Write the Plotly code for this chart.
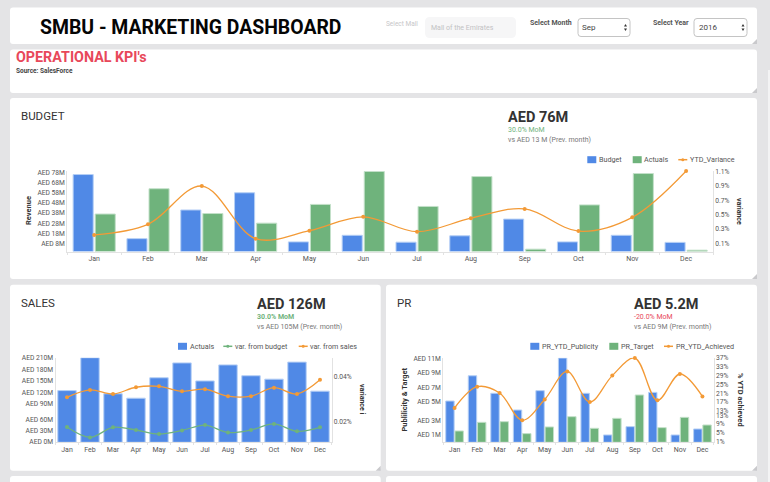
import plotly.graph_objects as go

W = 770
H = 482
FONT = "Roboto"
BLUE = "#5089e6"
GREEN = "#6fb37c"
ORANGE = "#f39a36"

months = ["Jan", "Feb", "Mar", "Apr", "May", "Jun", "Jul", "Aug", "Sep", "Oct", "Nov", "Dec"]

# budget card
budget = [76, 12.7, 41, 58, 9.5, 16, 9.2, 15.5, 32, 9.5, 16, 9]
budget_actuals = [37, 62, 37.5, 28, 46.5, 79, 44.5, 74, 2.3, 46, 77, 1.3]
ytd_variance = [0.216, 0.365, 0.9, 0.164, 0.276, 0.47, 0.262, 0.45, 0.58, 0.27, 0.463, 1.11]
budget_ticks = [8, 18, 28, 38, 48, 58, 68, 78]
variance_ticks = [0.1, 0.3, 0.5, 0.7, 0.9, 1.1]

# sales card
sales_actuals = [129, 211, 121, 110, 161, 198, 153, 193, 166, 157.5, 200, 127.5]
var_budget = [0.0176, 0.0130, 0.0175, 0.0163, 0.0145, 0.0161, 0.0185, 0.0152, 0.0163, 0.0190, 0.0157, 0.0175]
var_sales = [0.0309, 0.0342, 0.0324, 0.0354, 0.0358, 0.0336, 0.0345, 0.0314, 0.0314, 0.0352, 0.0324, 0.0387]
# the screenshot is slightly stretched around y=413, so ticks sit where they show, not evenly
sales_tick_pos = [1, 29.2, 57.5, 95.7, 123, 153, 182, 210]
sales_tick_text = ["AED 0M", "AED 30M", "AED 60M", "AED 90M", "AED 120M", "AED 150M", "AED 180M", "AED 210M"]

# pr card
pr_publicity = [5.46, 8.8, 6.48, 4.27, 6.83, 11.15, 6.48, 0.97, 2.07, 6.6, 0.97, 1.76]
pr_target = [1.5, 2.64, 2.73, 1.15, 2.03, 3.39, 1.85, 3.17, 6.26, 1.94, 3.3, 2.29]
pr_achieved = [15.4, 24.6, 21.9, 10.1, 19.1, 31.2, 18, 29.4, 37, 18.7, 30.1, 20.4]
pr_tick_pos = [1.01, 2.9, 5.4, 7.27, 9.16, 11]
pr_tick_text = ["AED 1M", "AED 3M", "AED 5M", "AED 7M", "AED 9M", "AED 11M"]
pr_pct_pos = [1, 4.6, 8.5, 12.1, 14.1, 18, 21.7, 25.6, 29.4, 33.3, 37]
pr_pct_text = ["1%", "5%", "9%", "13%", "13%", "17%", "21%", "25%", "29%", "33%", "37%"]


def px(x):
    return x / W


def py(y):
    return 1 - y / H


def card(x0, y0, x1, y1, color="white", r=3, line=None):
    # rounded rectangle in page pixels
    path = (f"M {px(x0 + r)} {py(y0)} L {px(x1 - r)} {py(y0)} Q {px(x1)} {py(y0)} {px(x1)} {py(y0 + r)} "
            f"L {px(x1)} {py(y1 - r)} Q {px(x1)} {py(y1)} {px(x1 - r)} {py(y1)} "
            f"L {px(x0 + r)} {py(y1)} Q {px(x0)} {py(y1)} {px(x0)} {py(y1 - r)} "
            f"L {px(x0)} {py(y0 + r)} Q {px(x0)} {py(y0)} {px(x0 + r)} {py(y0)} Z")
    return dict(type="path", xref="paper", yref="paper", path=path, fillcolor=color, layer="below",
                line=dict(width=1 if line else 0, color=line or color))


def rect(x0, y0, x1, y1, color):
    return dict(type="rect", xref="paper", yref="paper", x0=px(x0), x1=px(x1), y0=py(y0), y1=py(y1),
                fillcolor=color, line=dict(width=0), layer="below")


def handle(x, y):
    # little resize corner at the bottom right of a card
    path = f"M {px(x)} {py(y - 5)} L {px(x)} {py(y)} L {px(x - 5)} {py(y)} Z"
    return dict(type="path", xref="paper", yref="paper", path=path, fillcolor="#c9c9cc", layer="below",
                line=dict(width=0))


def arrows(x, y):
    up = f"M {px(x - 1.5)} {py(y - 1)} L {px(x + 1.5)} {py(y - 1)} L {px(x)} {py(y - 3.5)} Z"
    down = f"M {px(x - 1.5)} {py(y + 1)} L {px(x + 1.5)} {py(y + 1)} L {px(x)} {py(y + 3.5)} Z"
    return [dict(type="path", xref="paper", yref="paper", path=p, fillcolor="#333", line=dict(width=0)) for p in (up, down)]


def note(x, y, text, size=8.5, color="#555", bold=False, anchor="left", angle=0):
    if bold:
        text = f"<b>{text}</b>"
    return dict(x=px(x), y=py(y), xref="paper", yref="paper", text=text, showarrow=False, xanchor=anchor,
                yanchor="middle", textangle=angle, borderpad=0, borderwidth=0,
                font=dict(size=size, color=color, family=FONT))


def swatch(x, y, label, color):
    shapes.append(rect(x, y - 3.5, x + 9, y + 3.5, color))
    annotations.append(note(x + 11.5, y, label, size=7.2, color="#555"))


def dash(x, y, label, color):
    shapes.append(dict(type="line", xref="paper", yref="paper", x0=px(x), x1=px(x + 9), y0=py(y), y1=py(y),
                       line=dict(color=color, width=1.5)))
    shapes.append(dict(type="circle", xref="paper", yref="paper", x0=px(x + 3), x1=px(x + 6), y0=py(y + 1.5),
                       y1=py(y - 1.5), fillcolor=color, line=dict(width=0)))
    annotations.append(note(x + 11.5, y, label, size=7.2, color="#555"))


def bar(name, x, y, color, edge, xa, ya, **kw):
    return go.Bar(name=name, x=x, y=y, xaxis=xa, yaxis=ya, showlegend=False,
                  marker=dict(color=color, line=dict(color=edge, width=1)), **kw)


def line(name, x, y, color, xa, ya):
    return go.Scatter(name=name, x=x, y=y, xaxis=xa, yaxis=ya, showlegend=False, mode="lines+markers", cliponaxis=False,
                      line=dict(color=color, width=1.3, shape="spline", smoothing=1), marker=dict(color=color, size=4))


BLUE_EDGE = "#b5cff5"
GREEN_EDGE = "#c3e0c9"

fig = go.Figure()
fig.add_trace(bar("Budget", months, budget, BLUE, BLUE_EDGE, "x", "y"))
fig.add_trace(bar("Actuals", months, budget_actuals, GREEN, GREEN_EDGE, "x", "y"))
fig.add_trace(line("YTD_Variance", months, ytd_variance, ORANGE, "x", "y2"))

fig.add_trace(bar("Actuals", months, sales_actuals, BLUE, BLUE_EDGE, "x2", "y3", width=0.8))
fig.add_trace(line("var. from budget", months, var_budget, GREEN, "x2", "y4"))
fig.add_trace(line("var. from sales", months, var_sales, ORANGE, "x2", "y4"))

fig.add_trace(bar("PR_YTD_Publicity", months, pr_publicity, BLUE, BLUE_EDGE, "x3", "y5"))
fig.add_trace(bar("PR_Target", months, pr_target, GREEN, GREEN_EDGE, "x3", "y5"))
fig.add_trace(line("PR_YTD_Achieved", months, pr_achieved, ORANGE, "x3", "y6"))

tick_font = dict(size=6.7, color="#555", family=FONT)
AXIS = "#e2e2e2"


def x_axis(x0, x1, **kw):
    return dict(domain=[px(x0), px(x1)], range=[-0.5, 11.5], showgrid=False, showline=True, linecolor=AXIS, ticks="outside",
                tickson="boundaries", ticklen=2, tickcolor=AXIS, tickfont=dict(tick_font, size=7), tickangle=0,
                automargin=False, **kw)


def y_axis(y0, y1, rng, ticks, text, **kw):
    return dict(domain=[py(y1), py(y0)], range=rng, tickvals=ticks, ticktext=text, showgrid=False, zeroline=False,
                showline=True, linecolor=AXIS, ticks="", tickfont=tick_font, automargin=False, **kw)


fig.update_layout(
    template="none",
    width=W, height=H, margin=dict(l=0, r=0, t=0, b=0), autosize=False,
    paper_bgcolor="#e4e4e6", plot_bgcolor="rgba(0,0,0,0)", font=dict(family=FONT), showlegend=False,
    barmode="group", bargap=0.18, bargroupgap=0.09,
    xaxis=x_axis(67.3, 713), xaxis2=x_axis(55.5, 331.5, anchor="y3"), xaxis3=x_axis(443.3, 713.7, anchor="y5"),
    yaxis=y_axis(171, 251.5, [0, 79.5], budget_ticks, [f"AED {t}M" for t in budget_ticks]),
    yaxis2=y_axis(171, 251.5, [-0.015, 1.11], variance_ticks, [f"{t}%" for t in variance_ticks],
                  overlaying="y", side="right"),
    yaxis3=y_axis(357.7, 442.3, [0, 211], sales_tick_pos, sales_tick_text, anchor="x2"),
    yaxis4=y_axis(357.7, 442.3, [0.0108, 0.0486], [0.02, 0.04], ["0.02%", "0.04%"],
                  overlaying="y3", side="right", anchor="x2"),
    yaxis5=y_axis(357.7, 442.3, [0, 11.19], pr_tick_pos, pr_tick_text, anchor="x3"),
    yaxis6=y_axis(357.7, 442.3, [0.57, 37.15], pr_pct_pos, pr_pct_text,
                  overlaying="y5", side="right", anchor="x3"),
)

shapes = [
    rect(768, 70, 770, 482, "#f3f3f4"),
    card(10, 7.5, 757, 44),
    card(10, 49.5, 757, 93),
    card(10, 98, 757, 279),
    card(10, 284.7, 380.7, 470.7),
    card(386, 284.7, 757, 470.7),
    card(10, 476, 380.7, 490),
    card(386, 476, 757, 490),
    handle(757, 44), handle(757, 93), handle(757, 279), handle(380.7, 470.7), handle(757, 470.7),
    card(425, 17, 516, 38, color="#f6f6f7", r=5),
    card(578, 18.5, 630, 36.5, r=3, line="#c4c4c4"),
    card(694, 18.5, 747, 36.5, r=3, line="#c4c4c4"),
]
shapes += arrows(625.5, 27.5) + arrows(743, 27.5)

annotations = [
    note(40, 27, "SMBU - MARKETING DASHBOARD", size=19.4, color="#050505", bold=True),
    note(15.5, 57, "OPERATIONAL KPI's", size=14.3, color="#e8485a", bold=True),
    note(15.5, 71, "Source: SalesForce", size=6.5, color="#444", bold=True),
    note(386, 24, "Select Mall", size=6.5, color="#c6c6c8"),
    note(431, 27.5, "Mall of the Emirates", size=7, color="#c2c2c4"),
    note(530, 22.5, "Select Month", size=7, color="#555", bold=True),
    note(582, 27.5, "Sep", size=8, color="#444"),
    note(653, 22.5, "Select Year", size=7, color="#555", bold=True),
    note(698.5, 27.5, "2016", size=8, color="#444"),

    note(21, 116, "BUDGET", size=11.5, color="#333"),
    note(508, 117, "AED 76M", size=14.5, color="#333", bold=True),
    note(508, 130.3, "30.0% MoM", size=7, color="#6fb37c"),
    note(508, 139.5, "vs AED 13 M (Prev. month)", size=7, color="#777"),
    note(28, 211, "Revenue", size=7.5, color="#333", bold=True, anchor="center", angle=-90),
    note(739, 211, "variance", size=7, color="#333", bold=True, anchor="center", angle=90),

    note(21, 303, "SALES", size=11.5, color="#333"),
    note(256.5, 304, "AED 126M", size=14.5, color="#333", bold=True),
    note(256.5, 317.3, "30.0% MoM", size=7, color="#6fb37c", bold=True),
    note(256.5, 326.5, "vs AED 105M (Prev. month)", size=7, color="#777"),
    note(362, 399, "variance i", size=7, color="#333", bold=True, anchor="center", angle=90),

    note(397, 303, "PR", size=11.5, color="#333"),
    note(633.5, 304, "AED 5.2M", size=14.5, color="#333", bold=True),
    note(633.5, 317.3, "-20.0% MoM", size=7, color="#e8485a"),
    note(633.5, 326.5, "vs AED 9M (Prev. month)", size=7, color="#777"),
    note(403.5, 400, "Publilicity &amp; Target", size=7.5, color="#333", bold=True, anchor="center", angle=-90),
    note(741, 400, "% YTD achieved", size=7.5, color="#333", bold=True, anchor="center", angle=90),
]

# legends are drawn by hand: the native swatch area is too wide for these tight rows
swatch(587.3, 159.7, "Budget", BLUE)
swatch(632.7, 159.7, "Actuals", GREEN)
dash(678.3, 159.7, "YTD_Variance", ORANGE)
swatch(178, 346.3, "Actuals", BLUE)
dash(223.3, 346.3, "var. from budget", GREEN)
dash(298.7, 346.3, "var. from sales", ORANGE)
swatch(530.3, 346.3, "PR_YTD_Publicity", BLUE)
swatch(609.3, 346.3, "PR_Target", GREEN)
dash(664, 346.3, "PR_YTD_Achieved", ORANGE)

fig.update_layout(shapes=shapes, annotations=annotations)

fig.write_html("out.html", config=dict(displayModeBar=False),
               post_script="document.body.style.margin='0';document.body.style.overflow='hidden';")
